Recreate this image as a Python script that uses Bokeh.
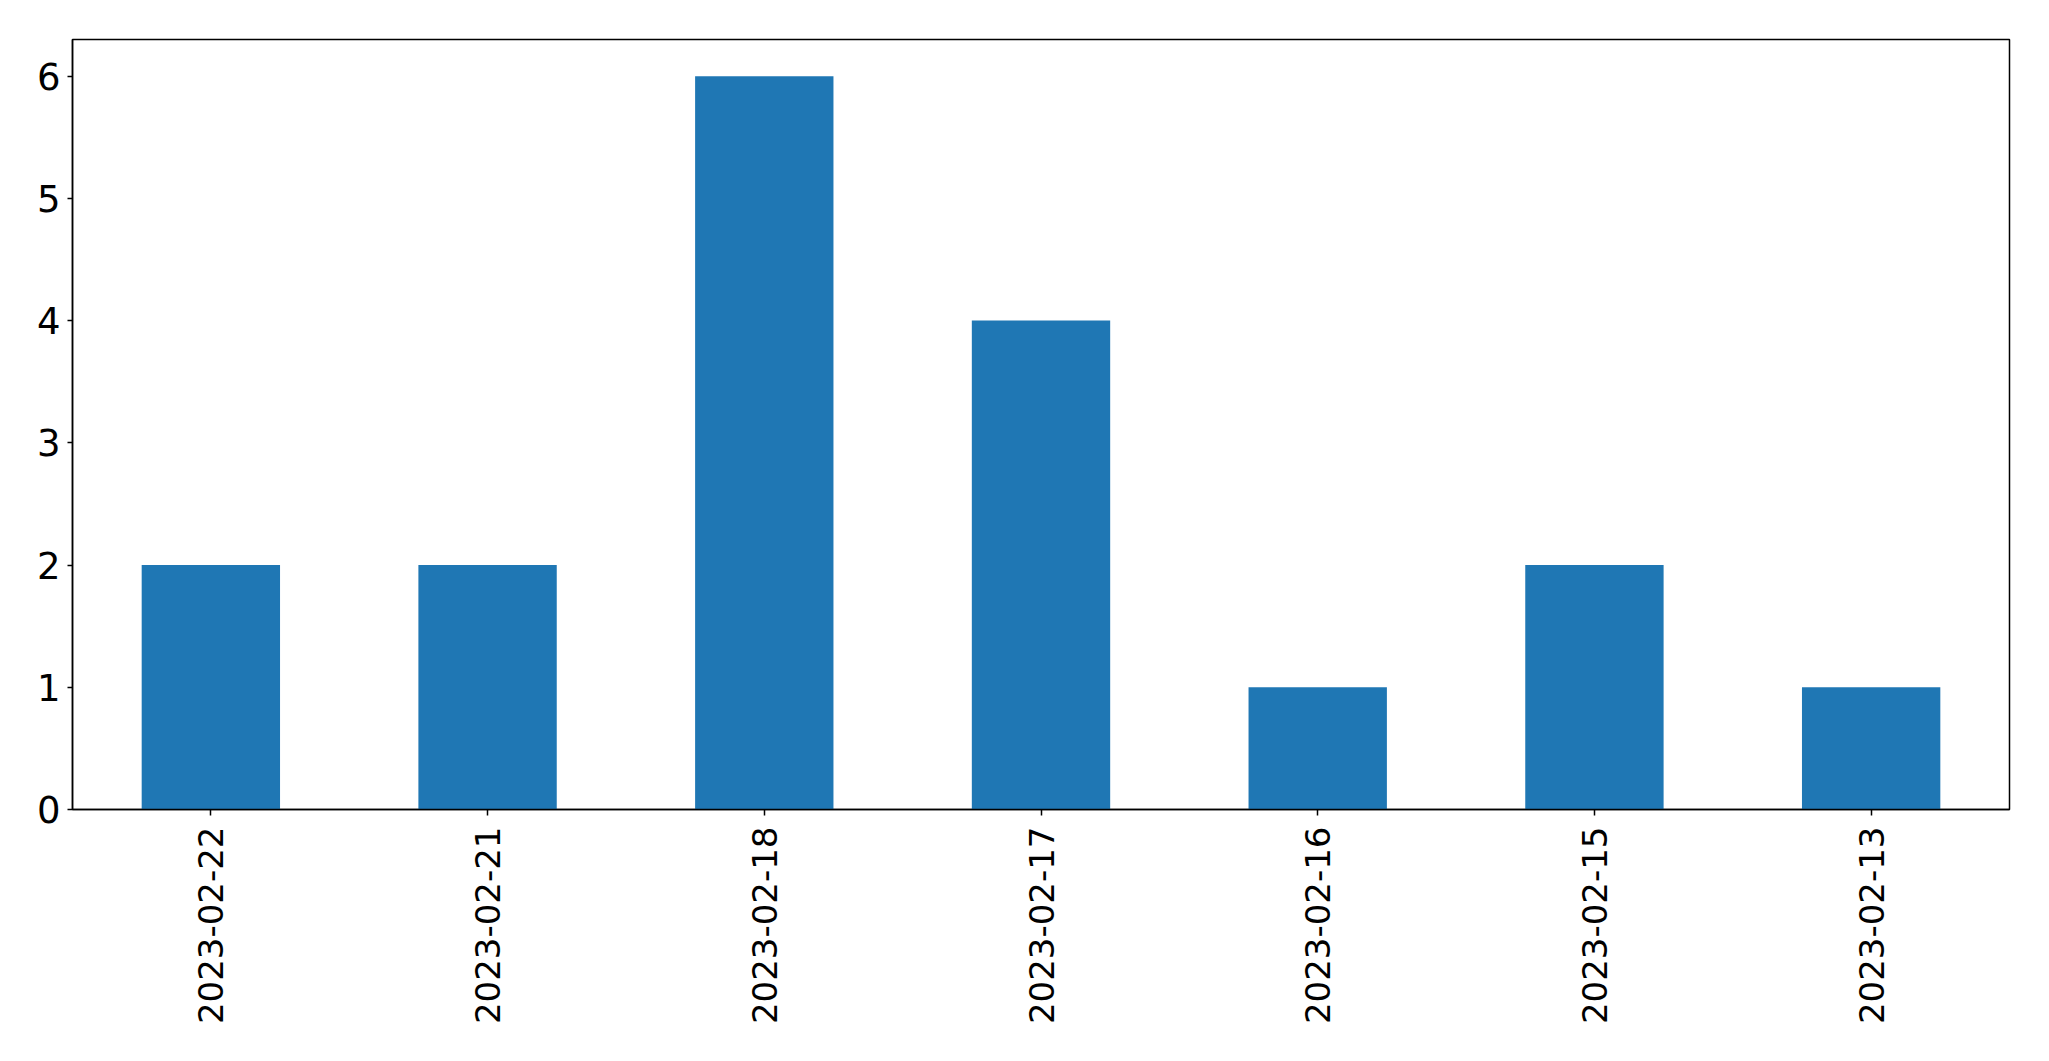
import math
from bokeh.plotting import figure
from bokeh.models import FactorRange, Range1d, FixedTicker
from bokeh.embed import file_html
from bokeh.resources import INLINE

dates = ["2023-02-22", "2023-02-21", "2023-02-18", "2023-02-17",
         "2023-02-16", "2023-02-15", "2023-02-13"]
counts = [2, 2, 6, 4, 1, 2, 1]
y_ticks = [0, 1, 2, 3, 4, 5, 6]

W, H = 2040, 1050
p = figure(width=W, height=H, output_backend="svg", toolbar_location=None,
           x_range=FactorRange(factors=dates, range_padding=0),
           y_range=Range1d(0, 6.3),
           min_border_left=72, min_border_right=31,
           min_border_top=39, min_border_bottom=241)

p.vbar(x=dates, top=counts, width=0.5, color="#1f77b4", line_color=None)

p.xgrid.visible = False
p.ygrid.visible = False
p.outline_line_color = "black"
p.outline_line_width = 1.5
p.outline_line_alpha = 1

for ax in (p.xaxis[0], p.yaxis[0]):
    ax.axis_line_color = "black"
    ax.axis_line_width = 1.5
    ax.major_tick_line_color = "black"
    ax.major_tick_line_width = 1.5
    ax.major_tick_in = 0
    ax.minor_tick_line_color = None
    ax.major_label_text_font = "DejaVu Sans"
    ax.major_label_text_color = "black"

p.yaxis[0].ticker = FixedTicker(ticks=y_ticks)
p.yaxis[0].major_tick_out = 5
p.yaxis[0].major_label_standoff = 7
p.yaxis[0].major_label_text_font_size = "37px"
p.xaxis[0].major_tick_out = 6
p.xaxis[0].major_label_orientation = math.pi / 2
p.xaxis[0].major_label_standoff = 11
p.xaxis[0].major_label_text_font_size = "34px"

open("out.html", "w").write(file_html(p, INLINE))
